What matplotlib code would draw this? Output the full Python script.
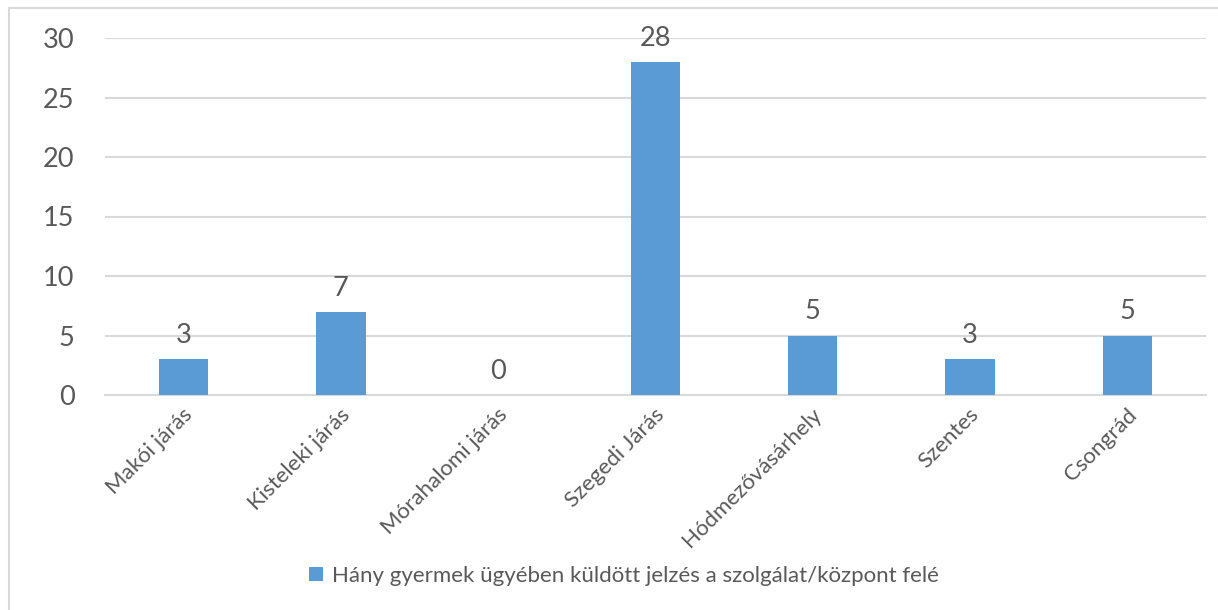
import matplotlib
matplotlib.use("Agg")
import matplotlib.pyplot as plt
import matplotlib.transforms as mtransforms
from matplotlib.patches import Rectangle

categories = ["Makói járás", "Kisteleki járás", "Mórahalomi járás", "Szegedi Járás",
              "Hódmezővásárhely", "Szentes", "Csongrád"]
values = [3, 7, 0, 28, 5, 3, 5]
series_name = "Hány gyermek ügyében küldött jelzés a szolgálat/központ felé"
yticks = [0, 5, 10, 15, 20, 25, 30]

plt.rcParams['font.family'] = ['Lato', 'DejaVu Sans']
text_color = "#595959"
bar_color = "#5B9BD5"

W, H = 1218, 610
fig = plt.figure(figsize=(W / 100, H / 100), dpi=100)
ax = fig.add_axes([105 / W, 1 - 395 / H, (1206 - 105) / W, (395 - 38) / H])

x = list(range(len(categories)))
bars = ax.bar(x, values, width=0.313, color=bar_color, label=series_name, zorder=3)
ax.set_xlim(-0.5, len(categories) - 0.5)
ax.set_ylim(0, 30)
ax.set_yticks(yticks)
ax.set_yticklabels([str(t) for t in yticks], fontsize=19.5, color=text_color)
ax.tick_params(axis='y', length=0, pad=22)
ax.tick_params(axis='x', length=0, pad=12)
ax.set_xticks(x)
ax.set_xticklabels(categories, rotation=45, ha='right', va='center',
                   rotation_mode='anchor', fontsize=16, color=text_color)
offset = mtransforms.ScaledTranslation(6 / 100, 0, fig.dpi_scale_trans)
for lbl in ax.get_xticklabels():
    lbl.set_transform(lbl.get_transform() + offset)
ax.grid(axis='y', color="#D9D9D9", linewidth=1.5, zorder=0)
for s in ['top', 'right', 'left']:
    ax.spines[s].set_visible(False)
ax.spines['bottom'].set_color("#D9D9D9")
ax.spines['bottom'].set_linewidth(1.5)

for xi, v in zip(x, values):
    ax.annotate(str(v), (xi, v), xytext=(0, 8), textcoords='offset points',
                ha='center', va='bottom', fontsize=19.5, color=text_color)

leg = fig.legend(handles=[bars], labels=[series_name], loc='center',
                 bbox_to_anchor=(624 / W, 1 - 576 / H), frameon=False,
                 fontsize=16, handlelength=0.6, handleheight=0.6, handletextpad=0.4)
for t in leg.get_texts():
    t.set_color(text_color)

fig.patches.append(Rectangle((8.5 / W, -0.1), 2, 1 - 7.5 / H + 0.1,
                             transform=fig.transFigure, fill=False,
                             edgecolor="#D9D9D9", linewidth=1.5))

fig.savefig("out.png", dpi=100, facecolor="white")
